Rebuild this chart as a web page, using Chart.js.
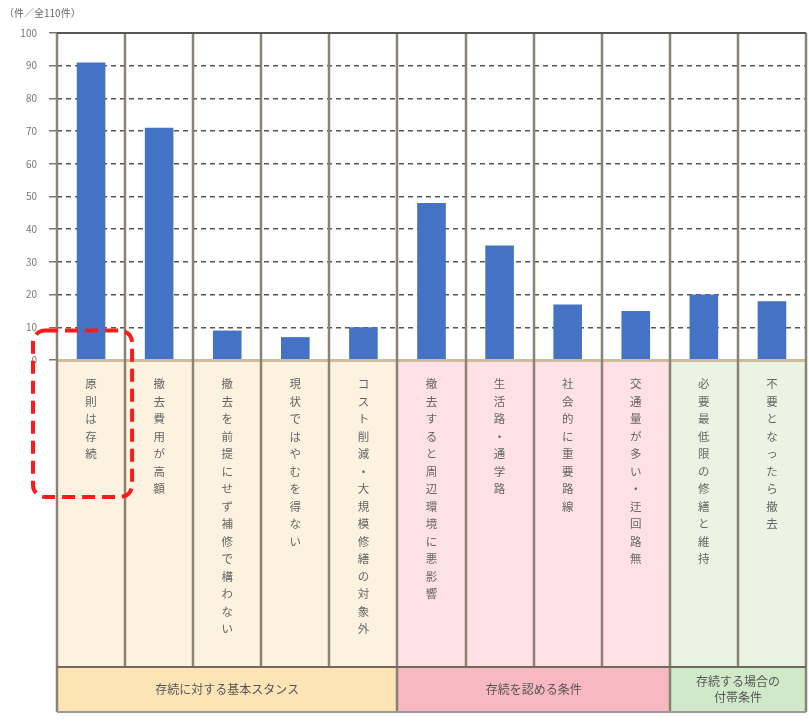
<!DOCTYPE html>
<html>
<head>
<meta charset="utf-8">
<script src="https://cdn.jsdelivr.net/npm/chart.js@4.4.1/dist/chart.umd.min.js"></script>
<style>
  html, body { margin: 0; padding: 0; background: #fff; }
  #wrap { width: 809px; height: 721px; position: relative; }
</style>
</head>
<body>
<div id="wrap"><canvas id="chart"></canvas></div>
<script>
// 回答項目（縦書き）
const categories = [
    '原則は存続',
    '撤去費用が高額',
    '撤去を前提にせず補修で構わない',
    '現状ではやむを得ない',
    'コスト削減・大規模修繕の対象外',
    '撤去すると周辺環境に悪影響',
    '生活路・通学路',
    '社会的に重要路線',
    '交通量が多い・迂回路無',
    '必要最低限の修繕と維持',
    '不要となったら撤去'
];
const counts = [91, 71, 9, 7, 10, 48, 35, 17, 15, 20, 18];

const groupNames = [['存続に対する基本スタンス'], ['存続を認める条件'], ['存続する場合の', '付帯条件']];
const groupSizes = [5, 4, 2];
const groupBand = ['#fdf2df', '#fde1e4', '#ebf4e2'];
const groupHead = ['#fde4b6', '#f7b8c1', '#d0eac9'];

const yMin = 0, yMax = 100, yStep = 10;
const unitLabel = '（件／全110件）';

const FONT = '"Noto Sans CJK JP", "Noto Sans", sans-serif';

const labelArea = {
    id: 'labelArea',
    afterDraw(chart) {
        const ctx = chart.ctx;
        const x = chart.scales.x, y = chart.scales.y;
        const area = chart.chartArea;
        const colW = (area.right - area.left) / categories.length;
        const bandTop = area.bottom;
        const bandBottom = bandTop + 307;
        const headBottom = bandBottom + 45;

        ctx.save();
        // 背景の帯
        let idx = 0;
        groupSizes.forEach((n, g) => {
            const l = area.left + idx * colW, r = area.left + (idx + n) * colW;
            ctx.fillStyle = groupBand[g];
            ctx.fillRect(l, bandTop, r - l, bandBottom - bandTop);
            ctx.fillStyle = groupHead[g];
            ctx.fillRect(l, bandBottom, r - l, headBottom - bandBottom);
            ctx.fillStyle = '#555';
            ctx.font = '12px ' + FONT;
            ctx.textAlign = 'center';
            ctx.textBaseline = 'middle';
            const lines = groupNames[g];
            const mid = (bandBottom + headBottom) / 2;
            lines.forEach((t, i) => {
                ctx.fillText(t, (l + r) / 2, mid + (i - (lines.length - 1) / 2) * 16);
            });
            idx += n;
        });

        // 0線
        ctx.fillStyle = '#cdbd9d';
        ctx.fillRect(area.left, bandTop - 1, area.right - area.left, 3);

        // 縦書きラベル
        ctx.fillStyle = '#666';
        ctx.font = '11.5px ' + FONT;
        ctx.textAlign = 'center';
        ctx.textBaseline = 'middle';
        categories.forEach((label, i) => {
            const cx = x.getPixelForValue(i);
            Array.from(label).forEach((ch, k) => {
                ctx.fillText(ch, cx, bandTop + 24 + k * 17.5);
            });
        });

        // 縦線
        ctx.strokeStyle = '#8a8272';
        ctx.lineWidth = 2.5;
        for (let i = 0; i <= categories.length; i++) {
            const px = Math.round(area.left + i * colW);
            ctx.beginPath();
            ctx.moveTo(px, area.top);
            ctx.lineTo(px, bandBottom);
            ctx.stroke();
        }
        idx = 0;
        [0].concat(groupSizes).forEach(n => {
            idx += n;
            const px = Math.round(area.left + idx * colW);
            ctx.beginPath();
            ctx.moveTo(px, bandBottom);
            ctx.lineTo(px, headBottom);
            ctx.stroke();
        });

        // 横線
        ctx.strokeStyle = '#6f6a5c';
        ctx.lineWidth = 2;
        ctx.beginPath();
        ctx.moveTo(area.left, bandBottom);
        ctx.lineTo(area.right, bandBottom);
        ctx.stroke();
        ctx.strokeStyle = '#9a9a9a';
        ctx.beginPath();
        ctx.moveTo(area.left, headBottom);
        ctx.lineTo(area.right, headBottom);
        ctx.stroke();
        ctx.strokeStyle = '#555';
        ctx.lineWidth = 2;
        ctx.beginPath();
        ctx.moveTo(area.left, y.getPixelForValue(yMax));
        ctx.lineTo(area.right, y.getPixelForValue(yMax));
        ctx.stroke();

        // 単位
        ctx.fillStyle = '#666';
        ctx.font = '10px ' + FONT;
        ctx.textAlign = 'left';
        ctx.fillText(unitLabel, 4, 13);

        // 赤い点線の枠
        const bx0 = area.left - 24, bx1 = area.left + colW + 7;
        const by0 = y.getPixelForValue(9), by1 = bandTop + 137;
        ctx.strokeStyle = '#ff1a1a';
        ctx.lineWidth = 4;
        ctx.setLineDash([13, 7]);
        ctx.beginPath();
        ctx.roundRect(bx0, by0, bx1 - bx0, by1 - by0, 12);
        ctx.stroke();
        ctx.restore();
    }
};

new Chart(document.getElementById('chart'), {
    type: 'bar',
    data: {
        labels: categories,
        datasets: [
            {
                data: counts,
                backgroundColor: '#4472c4',
                borderWidth: 0,
                barPercentage: 0.42,
                categoryPercentage: 1
            }
        ]
    },
    options: {
        responsive: true,
        maintainAspectRatio: false,
        animation: false,
        devicePixelRatio: 1,
        layout: {
            padding: { top: 33, right: 3, bottom: 361, left: 0 }
        },
        plugins: {
            legend: { display: false },
            tooltip: { enabled: false }
        },
        scales: {
            x: {
                display: false
            },
            y: {
                min: yMin,
                max: yMax,
                afterFit(axis) { axis.width = 57; },
                ticks: {
                    stepSize: yStep,
                    color: '#777',
                    padding: 12,
                    font: { size: 10, family: FONT }
                },
                grid: {
                    color: '#555',
                    lineWidth: 1.5,
                    tickLength: 8,
                    tickColor: '#777'
                },
                border: {
                    display: false,
                    dash: [5, 4]
                }
            }
        }
    },
    plugins: [labelArea]
});
</script>
</body>
</html>
